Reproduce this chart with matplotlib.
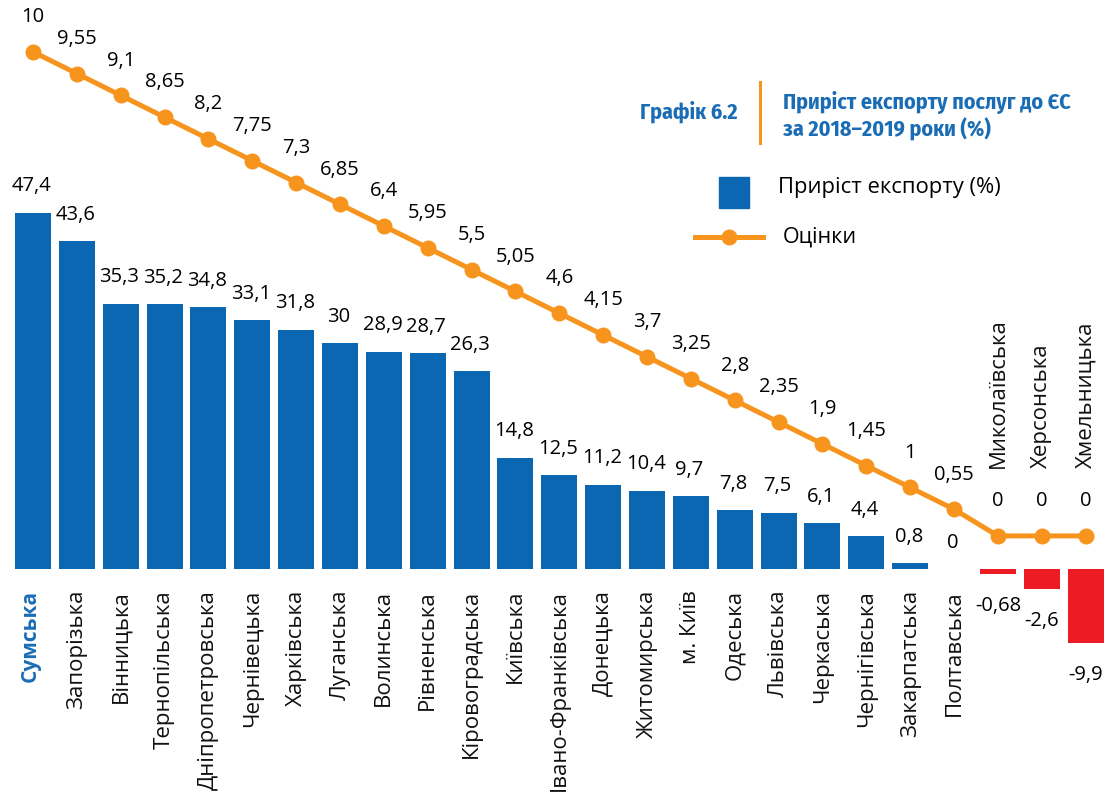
import matplotlib
matplotlib.use('Agg')
import matplotlib.pyplot as plt
from matplotlib import font_manager
from matplotlib.patches import Rectangle
from matplotlib.lines import Line2D

regions = ['Сумська', 'Запорізька', 'Вінницька', 'Тернопільська', 'Дніпропетровська',
           'Чернівецька', 'Харківська', 'Луганська', 'Волинська', 'Рівненська',
           'Кіровоградська', 'Київська', 'Івано-Франківська', 'Донецька', 'Житомирська',
           'м. Київ', 'Одеська', 'Львівська', 'Черкаська', 'Чернігівська',
           'Закарпатська', 'Полтавська', 'Миколаївська', 'Херсонська', 'Хмельницька']
growth = [47.4, 43.6, 35.3, 35.2, 34.8, 33.1, 31.8, 30, 28.9, 28.7, 26.3, 14.8, 12.5,
          11.2, 10.4, 9.7, 7.8, 7.5, 6.1, 4.4, 0.8, 0, -0.68, -2.6, -9.9]
scores = [10, 9.55, 9.1, 8.65, 8.2, 7.75, 7.3, 6.85, 6.4, 5.95, 5.5, 5.05, 4.6, 4.15,
          3.7, 3.25, 2.8, 2.35, 1.9, 1.45, 1, 0.55, 0, 0, 0]

blue = '#0B67B2'
title_blue = '#1A6DB5'
orange = '#F7941D'
red = '#ED1C24'

names = {f.name for f in font_manager.fontManager.ttflist}
font = 'Open Sans' if 'Open Sans' in names else 'DejaVu Sans'
cond = next((n for n in ['Fira Sans Condensed', 'Roboto Condensed', 'Open Sans Condensed',
                         'PT Sans Narrow', 'Liberation Sans Narrow'] if n in names), font)
plt.rcParams['font.family'] = [font, 'DejaVu Sans']


def fmt(v):
    return f'{v:g}'.replace('.', ',')


fig = plt.figure(figsize=(11.08, 7.92), dpi=100)
ax = fig.add_axes([0, 0, 1, 1])
ax2 = ax.twinx()
for a in (ax, ax2):
    a.axis('off')

x = list(range(len(regions)))
colors = [blue if v >= 0 else red for v in growth]
ax.bar(x, growth, width=0.82, color=colors)
ax.set_xlim(-0.752, 24.51)
ax.set_ylim(-29.65, 75.66)

ax2.plot(x, scores, color=orange, lw=3.6, marker='o', ms=10.5, zorder=3)
ax2.set_xlim(-0.752, 24.51)
ax2.set_ylim(-5.29, 11.07)

# bar value labels
for i, v in enumerate(growth):
    if v >= 0:
        ax.annotate(fmt(v), (i, v), xytext=(-1, 19), textcoords='offset points',
                    ha='center', va='center', fontsize=14.5)
    else:
        ax.annotate(fmt(v), (i, v), xytext=(0, -23), textcoords='offset points',
                    ha='center', va='center', fontsize=14.5)

# line value labels
for i, v in enumerate(scores):
    ax2.annotate(fmt(v), (i, v), xytext=(0, 25), textcoords='offset points',
                 ha='center', va='center', fontsize=14.5)

# category labels
for i, name in enumerate(regions):
    if i == 0:
        ax.annotate(name, (i, 0), xytext=(-2, -15), textcoords='offset points',
                    rotation=90, ha='center', va='top', fontsize=15, color=title_blue,
                    fontweight='bold')
    elif growth[i] >= 0:
        ax.annotate(name, (i, 0), xytext=(0, -15), textcoords='offset points',
                    rotation=90, ha='center', va='top', fontsize=16, color='#111111')
    else:
        ax2.annotate(name, (i, 0), xytext=(0, 49), textcoords='offset points',
                     rotation=90, ha='center', va='bottom', fontsize=16, color='#111111')

# title block
W, H = 1108, 792
fig.text(640 / W, 1 - 112 / H, 'Графік 6.2', ha='left', va='center', fontsize=15.8,
         fontweight='bold', color=title_blue, family=[cond, 'DejaVu Sans'])
fig.add_artist(Line2D([760 / W, 760 / W], [1 - 82 / H, 1 - 143 / H], color=orange, lw=2.2))
fig.text(783 / W, 1 - 116 / H, 'Приріст експорту послуг до ЄС\nза 2018–2019 роки (%)',
         ha='left', va='center', fontsize=15.8, fontweight='bold', color=title_blue,
         family=[cond, 'DejaVu Sans'], linespacing=1.15)

# legend
fig.add_artist(Rectangle((719 / W, 1 - 208 / H), 30 / W, 31 / H, color=blue))
fig.text(778 / W, 1 - 188 / H, 'Приріст експорту (%)', ha='left', va='center', fontsize=15.8)
fig.add_artist(Line2D([695 / W, 763 / W], [1 - 237 / H, 1 - 237 / H], color=orange, lw=3.6))
fig.add_artist(Line2D([729 / W], [1 - 237 / H], color=orange, marker='o', ms=10.5))
fig.text(783 / W, 1 - 237 / H, 'Оцінки', ha='left', va='center', fontsize=15.5)

fig.savefig('out.png', dpi=100, facecolor='white')
